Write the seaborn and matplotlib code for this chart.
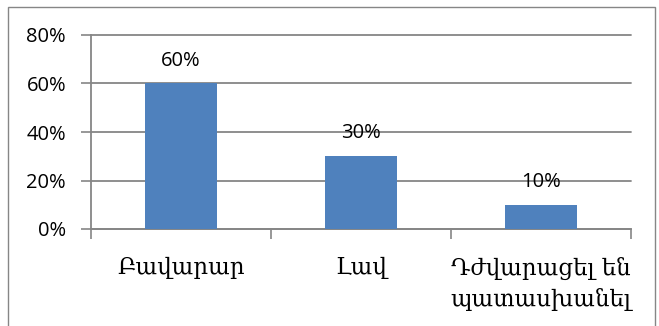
import matplotlib
matplotlib.use("Agg")
import matplotlib.pyplot as plt
import seaborn as sns
import pandas as pd
from matplotlib.patches import Rectangle
from matplotlib.ticker import FixedLocator

categories = ["Բավարար", "Լավ", "Դժվարացել են\nպատասխանել"]
values = [60, 30, 10]
y_ticks = [0, 20, 40, 60, 80]
y_tick_labels = ["0%", "20%", "40%", "60%", "80%"]
value_labels = ["60%", "30%", "10%"]

sns.set_theme(style="white")
plt.rcParams['font.family'] = ['Open Sans', 'DejaVu Sans']

df = pd.DataFrame({"cat": categories, "val": values})

fig = plt.figure(figsize=(6.59, 3.26), dpi=100)
ax = fig.add_axes([91/659, 1-229/326, 540/659, 194/326])
sns.barplot(data=df, x="cat", y="val", color="#4F81BD", saturation=1, width=0.395,
            ax=ax, zorder=3, linewidth=0)

ax.set_ylim(0, 80)
ax.set_xlim(-0.5, 2.5)
ax.set_yticks(y_ticks)
ax.set_yticklabels(y_tick_labels, fontsize=14.5, color="black")
ax.yaxis.grid(True, color="#868686", linewidth=1.3, zorder=0)
for gl in ax.get_ygridlines():
    gl.set_clip_on(False)
ax.set_axisbelow(True)
ax.set_xlabel("")
ax.set_ylabel("")
ax.set_xticks(range(len(categories)))
ax.set_xticklabels(categories, fontsize=16.5, family=['DejaVu Serif', 'DejaVu Sans'], color="black", linespacing=1.45)
ax.xaxis.set_minor_locator(FixedLocator([-0.5, 0.5, 1.5, 2.5]))
ax.tick_params(axis="x", which="major", length=0, pad=20)
ax.tick_params(axis="x", which="minor", length=7, width=1.2, color="#868686", bottom=True)
ax.tick_params(axis="y", which="major", length=7, width=1.2, color="#868686", left=True, pad=11)

for s in ["top", "right"]:
    ax.spines[s].set_visible(False)
for s in ["left", "bottom"]:
    ax.spines[s].set_color("#868686")
    ax.spines[s].set_linewidth(1.3)

for i, (v, lab) in enumerate(zip(values, value_labels)):
    ax.annotate(lab, (i, v), xytext=(0, 16.5), textcoords="offset points",
                ha="center", va="center", fontsize=14.5, color="black", zorder=4)

fig.patches.append(Rectangle((8/659, -0.02), 647/659, 1.02 - 7/326, transform=fig.transFigure,
                             fill=False, edgecolor="#868686", linewidth=1.0))

fig.savefig("out.png", dpi=100)
